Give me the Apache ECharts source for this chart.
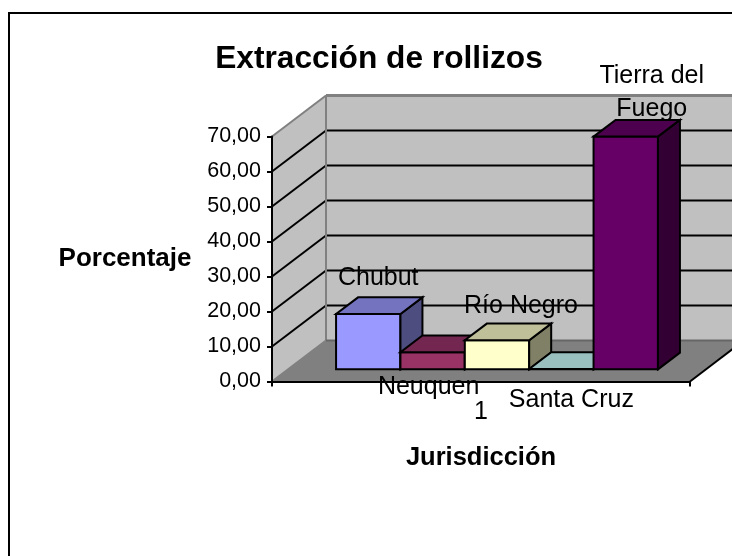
<!DOCTYPE html>
<html>
<head>
<meta charset="utf-8">
<style>html,body{margin:0;padding:0;background:#fff;overflow:hidden}#c{width:732px;height:556px}</style>
<script src="https://cdn.jsdelivr.net/npm/echarts@6/dist/echarts.min.js"></script>
</head>
<body>
<div id="c"></div>
<script>
const categories = ['1'];
const seriesNames = ['Chubut', 'Neuquen', 'Río Negro', 'Santa Cruz', 'Tierra del\nFuego'];
const seriesValues = [15.8, 4.9, 8.3, 0.1, 66.5];
const yTicks = [0, 10, 20, 30, 40, 50, 60, 70];
const titleText = 'Extracción de rollizos';
const xAxisTitle = 'Jurisdicción';
const yAxisTitle = 'Porcentaje';

const FONT = '"Liberation Sans", Arial, sans-serif';
const frontColors = ['#9999FF', '#993366', '#FFFFCC', '#CCFFFF', '#660066'];
const topColors = ['#7373BF', '#732650', '#BFBF99', '#99BFBF', '#4D004D'];
const sideColors = ['#4D4D80', '#4D1A33', '#808066', '#668080', '#330033'];
const labelOffsets = [[10, -36], [-4, 35], [24, -34], [10, 31], [26, -44]];

const DX = 54, DY = 41;           // full depth of the plot box
const START = 16 / 54;            // where bars begin in depth
const BAR_D = 22 / 54;            // bar depth share
const BAR_W = 0.77 / 5;           // bar width as a share of the category band

const poly = (pts, fill, stroke, lw, z2) => ({
  type: 'polygon', shape: { points: pts },
  style: { fill: fill, stroke: stroke, lineWidth: lw }, z2: z2 || 0
});
const line = (a, b, stroke, lw, z2) => ({
  type: 'line', shape: { x1: a[0], y1: a[1], x2: b[0], y2: b[1] },
  style: { stroke: stroke, lineWidth: lw, fill: null }, z2: z2 || 0
});

function renderWalls(params, api) {
  const band = api.size([1, 0])[0];
  const c0 = api.coord([0, 0]), c1 = api.coord([0, 70]);
  const L = c0[0] - band / 2, R = c0[0] + band / 2, B = c0[1], T = c1[1];
  const children = [
    poly([[L + DX, T - DY], [R + DX, T - DY], [R + DX, B - DY], [L + DX, B - DY]], '#C0C0C0'),
    poly([[L, T], [L + DX, T - DY], [L + DX, B - DY], [L, B]], '#C0C0C0'),
    poly([[L, B], [L + DX, B - DY], [R + DX, B - DY], [R, B]], '#808080')
  ];
  yTicks.forEach(t => {
    if (t === 0 || t === 70) return;
    const y = api.coord([0, t])[1];
    children.push(line([L, y], [L + DX, y - DY], '#000', 2));
    children.push(line([L + DX, y - DY], [R + DX, y - DY], '#000', 2));
  });
  children.push(line([L, T], [L + DX, T - DY], '#808080', 2));
  children.push(line([L + DX, T - DY], [R + DX, T - DY], '#808080', 3));
  children.push(line([L + DX, T - DY], [L + DX, B - DY], '#808080', 2));
  children.push(line([L, B], [L + DX, B - DY], '#808080', 2));
  children.push(line([L + DX, B - DY], [R + DX, B - DY], '#666', 2));
  children.push(line([R, B], [R + DX, B - DY], '#000', 2));
  return { type: 'group', children: children };
}

function renderBar(idx) {
  return function (params, api) {
    const band = api.size([1, 0])[0];
    const base = api.coord([api.value(0), 0]);
    const top = api.coord([api.value(0), api.value(1)]);
    const w = band * BAR_W;
    const sx = DX * START, sy = DY * START;
    const dx = DX * BAR_D, dy = DY * BAR_D;
    const x0 = base[0] + sx + (idx - 2.5) * w;
    const x1 = x0 + w;
    const yb = base[1] - sy, yt = top[1] - sy;
    const off = labelOffsets[idx];
    return {
      type: 'group',
      children: [
        poly([[x0, yb], [x1, yb], [x1, yt], [x0, yt]], frontColors[idx], '#000', 2),
        poly([[x1, yb], [x1 + dx, yb - dy], [x1 + dx, yt - dy], [x1, yt]], sideColors[idx], '#000', 2),
        poly([[x0, yt], [x1, yt], [x1 + dx, yt - dy], [x0 + dx, yt - dy]], topColors[idx], '#000', 2),
        {
          type: 'text', z2: 100,
          style: {
            text: seriesNames[idx], x: (x0 + x1) / 2 + off[0], y: yt + off[1],
            align: 'center', verticalAlign: 'middle',
            font: '25px ' + FONT, lineHeight: 33, fill: '#000'
          }
        }
      ]
    };
  };
}

const chart = echarts.init(document.getElementById('c'), null, { renderer: 'canvas' });
chart.setOption({
  animation: false,
  backgroundColor: '#fff',
  title: {
    text: titleText, left: 374, top: 38, textAlign: 'center',
    textStyle: { fontFamily: FONT, fontSize: 31.7, fontWeight: 'bold', color: '#000' }
  },
  grid: { left: 272, right: 42, top: 136.5, bottom: 174.5, containLabel: false },
  xAxis: {
    type: 'category', data: categories, z: 10,
    name: xAxisTitle, nameLocation: 'middle', nameGap: 63,
    nameTextStyle: { fontFamily: FONT, fontSize: 25.5, fontWeight: 'bold', color: '#000' },
    axisLine: { lineStyle: { color: '#000', width: 2 } },
    axisTick: { show: true, length: 5, lineStyle: { color: '#000', width: 2 } },
    axisLabel: { fontFamily: FONT, fontSize: 25, color: '#000', margin: 18 },
    splitLine: { show: false }
  },
  yAxis: {
    type: 'value', min: 0, max: 70, interval: 10, z: 10,
    name: yAxisTitle, nameLocation: 'middle', nameRotate: 0, nameGap: 80.5,
    nameTextStyle: { fontFamily: FONT, fontSize: 26, fontWeight: 'bold', color: '#000' },
    axisLine: { show: true, lineStyle: { color: '#000', width: 2 } },
    axisTick: { show: true, length: 5, lineStyle: { color: '#000', width: 2 } },
    axisLabel: {
      fontFamily: FONT, fontSize: 21.5, color: '#000', margin: 11,
      formatter: v => v.toFixed(2).replace('.', ',')
    },
    splitLine: { show: false }
  },
  graphic: [{
    type: 'rect', shape: { x: 9, y: 13, width: 900, height: 900 },
    style: { fill: null, stroke: '#000', lineWidth: 2 }, z: 20, silent: true
  }],
  series: [
    { type: 'custom', coordinateSystem: 'cartesian2d', data: [[0, 0]], renderItem: renderWalls, silent: true, z: 1 }
  ].concat(seriesValues.map((v, i) => ({
    type: 'custom', coordinateSystem: 'cartesian2d', name: seriesNames[i],
    data: [[0, v]], encode: { x: 0, y: 1 }, renderItem: renderBar(i), silent: true, z: 2
  })))
});
</script>
</body>
</html>
